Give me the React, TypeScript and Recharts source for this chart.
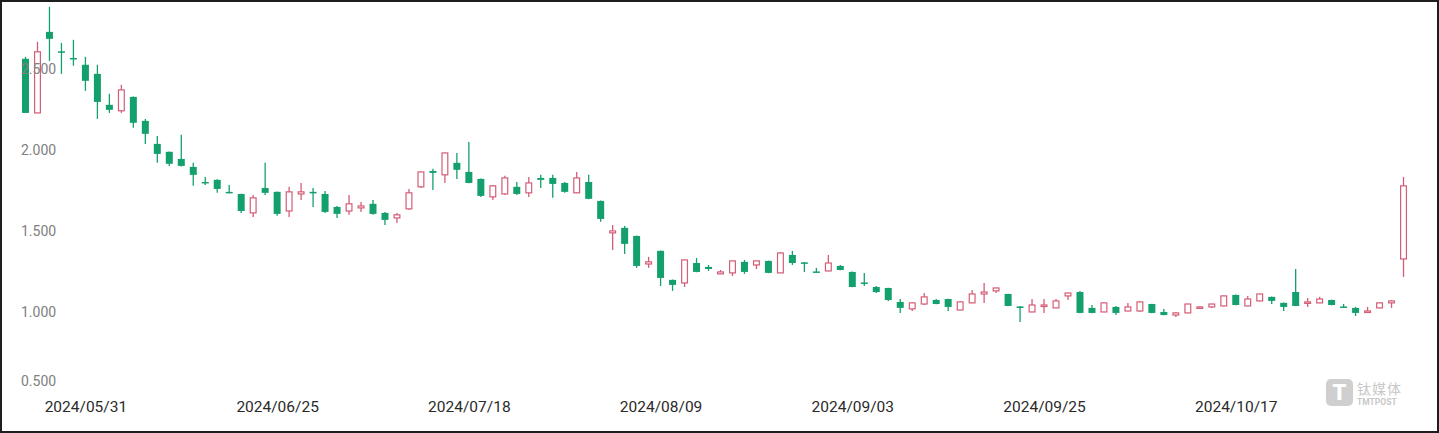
import React from 'react';
import { ComposedChart, Bar, XAxis, YAxis } from 'recharts';

// trading days (US calendar), one per candle
const DATES = [
  '2024/05/23', '2024/05/24', '2024/05/28', '2024/05/29', '2024/05/30', '2024/05/31',
  '2024/06/03', '2024/06/04', '2024/06/05', '2024/06/06', '2024/06/07', '2024/06/10',
  '2024/06/11', '2024/06/12', '2024/06/13', '2024/06/14', '2024/06/17', '2024/06/18',
  '2024/06/20', '2024/06/21', '2024/06/24', '2024/06/25', '2024/06/26', '2024/06/27',
  '2024/06/28', '2024/07/01', '2024/07/02', '2024/07/03', '2024/07/05', '2024/07/08',
  '2024/07/09', '2024/07/10', '2024/07/11', '2024/07/12', '2024/07/15', '2024/07/16',
  '2024/07/17', '2024/07/18', '2024/07/19', '2024/07/22', '2024/07/23', '2024/07/24',
  '2024/07/25', '2024/07/26', '2024/07/29', '2024/07/30', '2024/07/31', '2024/08/01',
  '2024/08/02', '2024/08/05', '2024/08/06', '2024/08/07', '2024/08/08', '2024/08/09',
  '2024/08/12', '2024/08/13', '2024/08/14', '2024/08/15', '2024/08/16', '2024/08/19',
  '2024/08/20', '2024/08/21', '2024/08/22', '2024/08/23', '2024/08/26', '2024/08/27',
  '2024/08/28', '2024/08/29', '2024/08/30', '2024/09/03', '2024/09/04', '2024/09/05',
  '2024/09/06', '2024/09/09', '2024/09/10', '2024/09/11', '2024/09/12', '2024/09/13',
  '2024/09/16', '2024/09/17', '2024/09/18', '2024/09/19', '2024/09/20', '2024/09/23',
  '2024/09/24', '2024/09/25', '2024/09/26', '2024/09/27', '2024/09/30', '2024/10/01',
  '2024/10/02', '2024/10/03', '2024/10/04', '2024/10/07', '2024/10/08', '2024/10/09',
  '2024/10/10', '2024/10/11', '2024/10/14', '2024/10/15', '2024/10/16', '2024/10/17',
  '2024/10/18', '2024/10/21', '2024/10/22', '2024/10/23', '2024/10/24', '2024/10/25',
  '2024/10/28', '2024/10/29', '2024/10/30', '2024/10/31', '2024/11/01', '2024/11/04',
  '2024/11/05', '2024/11/06',
];

const OPEN = [
  2.562, 2.228, 2.728, 2.608, 2.567, 2.525, 2.469, 2.278, 2.241, 2.327,
  2.179, 2.037, 1.988, 1.944, 1.895, 1.802, 1.815, 1.741, 1.728, 1.611,
  1.765, 1.741, 1.623, 1.728, 1.741, 1.728, 1.648, 1.623, 1.642, 1.667,
  1.611, 1.580, 1.636, 1.772, 1.870, 1.846, 1.920, 1.864, 1.821, 1.710,
  1.728, 1.772, 1.735, 1.827, 1.827, 1.796, 1.735, 1.802, 1.685, 1.488,
  1.519, 1.469, 1.296, 1.377, 1.198, 1.179, 1.302, 1.278, 1.235, 1.241,
  1.309, 1.290, 1.315, 1.241, 1.352, 1.306, 1.250, 1.253, 1.284, 1.247,
  1.182, 1.154, 1.148, 1.062, 1.019, 1.049, 1.074, 1.080, 1.012, 1.056,
  1.111, 1.130, 1.111, 1.034, 1.000, 1.037, 1.025, 1.099, 1.123, 1.025,
  1.000, 1.031, 1.006, 1.006, 1.049, 1.000, 0.981, 0.994, 1.025, 1.031,
  1.037, 1.105, 1.037, 1.068, 1.093, 1.056, 1.123, 1.056, 1.056, 1.074,
  1.034, 1.025, 1.000, 1.025, 1.056, 1.327,
];
const HIGH = [
  2.574, 2.667, 2.883, 2.660, 2.679, 2.574, 2.525, 2.346, 2.401, 2.330,
  2.191, 2.086, 1.990, 2.093, 1.920, 1.833, 1.818, 1.784, 1.730, 1.722,
  1.920, 1.743, 1.772, 1.796, 1.765, 1.747, 1.654, 1.722, 1.679, 1.691,
  1.617, 1.611, 1.759, 1.866, 1.883, 1.983, 1.981, 2.049, 1.823, 1.784,
  1.840, 1.802, 1.833, 1.846, 1.846, 1.802, 1.864, 1.846, 1.687, 1.537,
  1.531, 1.471, 1.340, 1.379, 1.200, 1.323, 1.333, 1.290, 1.259, 1.317,
  1.321, 1.317, 1.317, 1.370, 1.377, 1.308, 1.272, 1.352, 1.290, 1.249,
  1.241, 1.160, 1.150, 1.080, 1.058, 1.117, 1.080, 1.082, 1.064, 1.136,
  1.179, 1.150, 1.113, 1.037, 1.080, 1.080, 1.080, 1.119, 1.130, 1.043,
  1.058, 1.037, 1.056, 1.064, 1.051, 1.019, 1.000, 1.051, 1.037, 1.051,
  1.101, 1.107, 1.099, 1.113, 1.095, 1.058, 1.265, 1.086, 1.093, 1.076,
  1.049, 1.031, 1.031, 1.058, 1.074, 1.833,
];
const LOW = [
  2.228, 2.228, 2.549, 2.469, 2.519, 2.364, 2.191, 2.228, 2.228, 2.136,
  2.037, 1.920, 1.901, 1.898, 1.778, 1.784, 1.735, 1.733, 1.611, 1.586,
  1.722, 1.593, 1.586, 1.691, 1.648, 1.611, 1.580, 1.599, 1.617, 1.599,
  1.537, 1.549, 1.630, 1.765, 1.753, 1.796, 1.821, 1.794, 1.710, 1.691,
  1.722, 1.722, 1.710, 1.765, 1.704, 1.735, 1.733, 1.696, 1.556, 1.383,
  1.358, 1.272, 1.272, 1.160, 1.130, 1.154, 1.245, 1.253, 1.233, 1.222,
  1.235, 1.265, 1.239, 1.239, 1.290, 1.247, 1.245, 1.251, 1.257, 1.152,
  1.160, 1.117, 1.068, 0.994, 1.006, 1.043, 1.047, 1.006, 1.010, 1.054,
  1.056, 1.117, 1.035, 0.938, 0.998, 0.994, 1.023, 1.074, 0.992, 0.992,
  0.998, 0.981, 1.004, 1.000, 0.992, 0.979, 0.969, 0.992, 1.019, 1.025,
  1.035, 1.041, 1.035, 1.066, 1.049, 1.006, 1.035, 1.031, 1.054, 1.041,
  1.029, 0.975, 0.994, 1.023, 1.025, 1.216,
];
const CLOSE = [
  2.228, 2.605, 2.685, 2.600, 2.558, 2.426, 2.296, 2.247, 2.370, 2.167,
  2.099, 1.975, 1.914, 1.901, 1.846, 1.796, 1.759, 1.736, 1.623, 1.704,
  1.735, 1.605, 1.741, 1.741, 1.735, 1.617, 1.605, 1.667, 1.654, 1.605,
  1.568, 1.599, 1.735, 1.864, 1.858, 1.981, 1.877, 1.796, 1.716, 1.778,
  1.827, 1.728, 1.796, 1.815, 1.790, 1.741, 1.827, 1.698, 1.574, 1.500,
  1.420, 1.284, 1.309, 1.210, 1.167, 1.321, 1.247, 1.265, 1.247, 1.315,
  1.247, 1.315, 1.241, 1.364, 1.302, 1.302, 1.247, 1.302, 1.259, 1.154,
  1.176, 1.123, 1.074, 1.025, 1.056, 1.093, 1.049, 1.031, 1.062, 1.111,
  1.123, 1.148, 1.037, 1.031, 1.043, 1.043, 1.068, 1.117, 0.994, 0.994,
  1.056, 0.994, 1.031, 1.062, 0.994, 0.981, 0.994, 1.049, 1.031, 1.049,
  1.099, 1.043, 1.080, 1.111, 1.068, 1.031, 1.037, 1.062, 1.080, 1.043,
  1.031, 0.994, 1.006, 1.056, 1.068, 1.778,
];

const TICK_DATES = [
  '2024/05/31', '2024/06/25', '2024/07/18', '2024/08/09',
  '2024/09/03', '2024/09/25', '2024/10/17',
];
const PRICE_TICKS = [0.5, 1, 1.5, 2, 2.5];

const GREEN = '#14a06c';
const RED = '#d45d76';

const data = DATES.map((date, i) => ({
  date,
  open: OPEN[i],
  high: HIGH[i],
  low: LOW[i],
  close: CLOSE[i],
}));

const Candle = (props: any) => {
  let { x, y, width, height } = props;
  const { open, close, high, low } = props.payload;
  if (height < 0) {
    y += height;
    height = -height;
  }
  const span = high - low || 1;
  const py = (v: number) => y + ((high - v) / span) * height;
  const cx = x + width / 2;
  const up = close >= open;
  const color = up ? RED : GREEN;
  const top = py(Math.max(open, close));
  const bodyH = Math.max(py(Math.min(open, close)) - top, 1.5);
  return (
    <g>
      <line x1={cx} x2={cx} y1={y} y2={y + height} stroke={color} strokeWidth={1.3} />
      {up ? (
        <rect x={x + 0.6} y={top} width={width - 1.2} height={bodyH} fill="#fff" stroke={color} strokeWidth={1.2} />
      ) : (
        <rect x={x} y={top} width={width} height={bodyH} fill={color} />
      )}
    </g>
  );
};

// price labels sit inside the plot, left aligned
const PriceTick = (props: any) => {
  const { y, payload } = props;
  return (
    <text
      x={21}
      y={payload.value === 0.5 ? y - 12 : y}
      dy="0.35em"
      textAnchor="start"
      fontSize={14}
      fill="#808080"
      fontFamily="Roboto, sans-serif"
    >
      {Number(payload.value).toFixed(3)}
    </text>
  );
};

const DateTick = (props: any) => {
  const { x, y, payload } = props;
  return (
    <text
      x={x}
      y={y}
      dy="0.71em"
      textAnchor="middle"
      fontSize={15.5}
      fill="#2a2a2a"
      fontFamily="Roboto, sans-serif"
    >
      {payload.value}
    </text>
  );
};

export default function App() {
  return (
    <div style={{ position: 'relative', width: 1439, height: 433, background: '#fff' }}>
      <style>{'body{margin:0}'}</style>
      <ComposedChart
        width={1439}
        height={433}
        data={data}
        margin={{ top: 4, right: 29, bottom: 10, left: 0 }}
      >
        <XAxis
          dataKey="date"
          ticks={TICK_DATES}
          interval={0}
          axisLine={false}
          tickLine={false}
          height={30}
          tick={<DateTick />}
        />
        <YAxis
          type="number"
          domain={[0.5, 2.9]}
          ticks={PRICE_TICKS}
          interval={0}
          allowDataOverflow
          width={20}
          axisLine={false}
          tickLine={false}
          tick={<PriceTick />}
        />
        <Bar
          dataKey={(d: any) => [d.low, d.high]}
          barSize={7}
          shape={<Candle />}
          isAnimationActive={false}
        />
      </ComposedChart>

      {/* watermark */}
      <div
        style={{
          position: 'absolute',
          left: 1326,
          top: 379,
          width: 27,
          height: 27,
          borderRadius: 5,
          background: '#cfcfcf',
          color: '#fff',
          fontFamily: 'Roboto, sans-serif',
          fontWeight: 900,
          fontSize: 22,
          lineHeight: '27px',
          textAlign: 'center',
        }}
      >
        T
      </div>
      <div
        style={{
          position: 'absolute',
          left: 1357,
          top: 380,
          fontFamily: '"Noto Sans CJK SC", sans-serif',
          fontSize: 14,
          lineHeight: '16px',
          color: '#c8c8c8',
          letterSpacing: 1,
        }}
      >
        钛媒体
      </div>
      <div
        style={{
          position: 'absolute',
          left: 1357,
          top: 397,
          fontFamily: 'Roboto, sans-serif',
          fontSize: 8.5,
          fontWeight: 700,
          lineHeight: '10px',
          color: '#c8c8c8',
        }}
      >
        TMTPOST
      </div>

      <div
        style={{
          position: 'absolute',
          inset: 0,
          border: '2px solid #1e1e1e',
          boxSizing: 'border-box',
          pointerEvents: 'none',
        }}
      />
    </div>
  );
}
